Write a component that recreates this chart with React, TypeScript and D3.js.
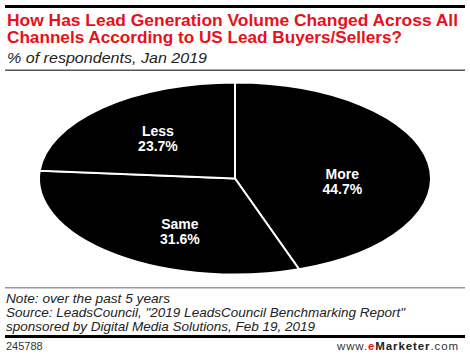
import * as d3 from 'd3'

const categories = ['More', 'Same', 'Less']
const shares = [44.7, 31.6, 23.7]

const titleLines = [
  'How Has Lead Generation Volume Changed Across All',
  'Channels According to US Lead Buyers/Sellers?',
]
const subtitle = '% of respondents, Jan 2019'
const noteLines = [
  'Note: over the past 5 years',
  'Source: LeadsCouncil, "2019 LeadsCouncil Benchmarking Report"',
  'sponsored by Digital Media Solutions, Feb 19, 2019',
]
const chartId = '245788'

const W = 470
const H = 358
const cx = 235
const cy = 178.5
const rx = 196
const ry = 96

// small hand nudges so labels sit where the original puts them
const labelNudge: Record<string, [number, number]> = {
  More: [1, 12],
  Same: [11, 12],
  Less: [-4, -1],
}

export default function App() {
  const data = categories.map((c, i) => ({ name: c, value: shares[i] }))
  const pie = d3.pie<{ name: string; value: number }>().sort(null).value((d) => d.value)
  const arcs = pie(data)
  const arc = d3.arc<d3.PieArcDatum<{ name: string; value: number }>>().innerRadius(0).outerRadius(rx)
  const labelArc = d3.arc<d3.PieArcDatum<{ name: string; value: number }>>()
    .innerRadius(rx * 0.55)
    .outerRadius(rx * 0.55)
  const sy = ry / rx

  const font = '"Liberation Sans", Arial, sans-serif'
  const title = { fontFamily: font, fontWeight: 700, fontSize: 16, fill: '#e8101a' }
  const note = { fontFamily: font, fontStyle: 'italic', fontSize: 13, fill: '#222' }
  const noteWidths = [164, 399, 309]

  return (
    <svg width={W} height={H} style={{ position: 'absolute', left: 0, top: 0, background: '#fff' }}>
      <rect x={5} y={5} width={460} height={3} fill="#000" />
      {titleLines.map((t, i) => (
        <text key={i} x={7} y={26 + i * 17} {...title} textLength={i === 0 ? 451 : 395} lengthAdjust="spacingAndGlyphs">
          {t}
        </text>
      ))}
      <text x={7} y={63} fontFamily={font} fontStyle="italic" fontSize={15} fill="#222"
        textLength={200} lengthAdjust="spacingAndGlyphs">
        {subtitle}
      </text>
      <rect x={5} y={69.5} width={460} height={1.5} fill="#555" />

      <g transform={`translate(${cx},${cy}) scale(1,${sy})`}>
        {arcs.map((a) => (
          <path key={a.data.name} d={arc(a) ?? ''} fill="#000" stroke="#fff" strokeWidth={2} vectorEffect="non-scaling-stroke" />
        ))}
      </g>
      {arcs.map((a) => {
        const [lx, ly] = labelArc.centroid(a)
        const [nx, ny] = labelNudge[a.data.name]
        const x = cx + lx + nx
        const y = cy + ly * sy + ny
        return (
          <text key={a.data.name} x={x} y={y} textAnchor="middle" fontFamily={font}
            fontWeight={700} fontSize={14} fill="#fff">
            <tspan x={x} dy={-3}>{a.data.name}</tspan>
            <tspan x={x} dy={15}>{a.data.value.toFixed(1)}%</tspan>
          </text>
        )
      })}

      <rect x={5} y={287} width={460} height={1.5} fill="#999" />
      {noteLines.map((t, i) => (
        <text key={i} x={6} y={302.5 + i * 14} {...note} textLength={noteWidths[i]} lengthAdjust="spacingAndGlyphs">
          {t}
        </text>
      ))}
      <rect x={5} y={335} width={460} height={3} fill="#000" />
      <text x={6} y={350} fontFamily={font} fontSize={11} fill="#333">
        {chartId}
      </text>
      <text x={459} y={350} textAnchor="end" fontFamily={font} fontSize={11.5} letterSpacing={0.9} fill="#333">
        www.<tspan fill="#e8101a" fontWeight={700}>e</tspan><tspan fontWeight={700} fill="#222">Marketer</tspan>.com
      </text>
    </svg>
  )
}
